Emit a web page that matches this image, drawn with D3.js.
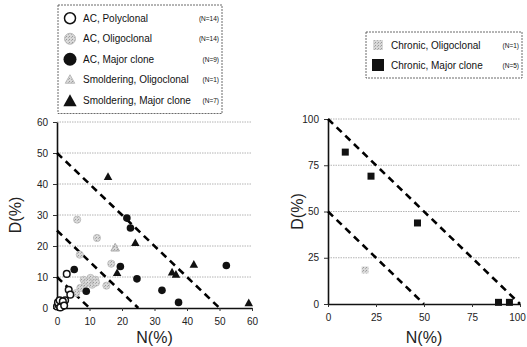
<!DOCTYPE html>
<html><head><meta charset="utf-8">
<script src="https://cdn.jsdelivr.net/npm/d3@7"></script>
<style>
body{margin:0;background:#fff;}
text{font-family:"Liberation Sans",Arial,sans-serif;}
</style></head>
<body><svg id="c" width="527" height="347"></svg>
<script>
// ---- data (left panel: AC & smoldering) ----
const acPolyclonal = [[0,0.5],[0.5,1],[1,1.5],[1.5,0.5],[0.3,1.8],[2,1.5],[1,0.2],[2.5,2.5],[0.8,2.5],[1.8,2.2],[2.2,0.8],[3,11],[3.6,5.9],[4.1,4.3]];
const acOligoclonal = [[6.2,28.5],[12.3,22.6],[7,17.2],[16.7,14.3],[15.2,7.2],[8.2,9.1],[10.3,9.7],[11.8,9.1],[10.8,7.5],[8.7,7.8],[7.2,6.5],[5.9,4.8],[12,8.2],[9.5,8.5]];
const acMajor = [[21.5,29],[22.6,25.8],[19.5,13.4],[24.6,9.4],[32.3,5.7],[37.4,1.8],[52.1,13.7],[5.3,12.4],[9,5.4]];
const smOligoclonal = [[17.9,19.4]];
const smMajor = [[15.7,42.3],[24.1,21],[18.5,11.3],[35.4,11.5],[36.6,10.8],[42.1,14],[59,1.6]];
const leftTicks = [0,10,20,30,40,50,60];
const leftLines = [10,25,50];
// ---- data (right panel: chronic) ----
const chOligoclonal = [[19.3,18.4]];
const chMajor = [[9,82.1],[22.4,69.1],[46.6,43.8],[88.8,0.9],[94.5,0.9]];
const rightTicks = [0,25,50,75,100];
const rightLines = [50,100];
const leftLegend = [
  {label:"AC, Polyclonal", n:"(N=14)", type:"open"},
  {label:"AC, Oligoclonal", n:"(N=14)", type:"grey"},
  {label:"AC, Major clone", n:"(N=9)", type:"black"},
  {label:"Smoldering, Oligoclonal", n:"(N=1)", type:"greytri"},
  {label:"Smoldering, Major clone", n:"(N=7)", type:"tri"}
];
const rightLegend = [
  {label:"Chronic, Oligoclonal", n:"(N=1)", type:"greysq"},
  {label:"Chronic, Major clone", n:"(N=5)", type:"sq"}
];

const svg = d3.select("#c");
const defs = svg.append("defs");
const pat = defs.append("pattern").attr("id","speck").attr("width",3).attr("height",3).attr("patternUnits","userSpaceOnUse");
pat.append("rect").attr("width",3).attr("height",3).attr("fill","#d8d8d8");
pat.append("rect").attr("width",1).attr("height",1).attr("fill","#9a9a9a");
pat.append("rect").attr("x",2).attr("y",1).attr("width",1).attr("height",1).attr("fill","#b0b0b0");

const xL = d3.scaleLinear([0,60],[57,252]);
const yL = d3.scaleLinear([0,60],[308,122]);
const xR = d3.scaleLinear([0,100],[328,520]);
const yR = d3.scaleLinear([0,100],[304,119]);

function panel(x, y, ticks, lines){
  const g = svg.append("g");
  g.append("g").selectAll("line").data(ticks.slice(1)).join("line")
    .attr("x1",x.range()[0]).attr("x2",x.range()[1])
    .attr("y1",d=>y(d)).attr("y2",d=>y(d))
    .attr("stroke","#b4b4b4").attr("stroke-width",1).attr("stroke-dasharray","1.5,1");
  const ax = g.append("g").attr("transform",`translate(0,${y(0)})`)
    .call(d3.axisBottom(x).tickValues(ticks).tickSize(3).tickSizeOuter(0).tickPadding(7));
  const ay = g.append("g").attr("transform",`translate(${x(0)},0)`)
    .call(d3.axisLeft(y).tickValues(ticks).tickSize(4).tickSizeOuter(0).tickPadding(5));
  [ax,ay].forEach(a=>{
    a.select(".domain").attr("stroke","#111").attr("stroke-width",1.6);
    a.selectAll(".tick line").attr("stroke","#333");
    a.selectAll("text").attr("font-size",10).attr("fill","#222");
  });
  ax.selectAll(".tick text").filter(d=>d===100).attr("dx",-3);
  g.append("g").selectAll("line").data(lines).join("line")
    .attr("x1",x(0)).attr("y1",d=>y(d)).attr("x2",d=>x(d)).attr("y2",y(0))
    .attr("stroke","#000").attr("stroke-width",2.6).attr("stroke-dasharray","7,5");
  return g;
}
const gl = panel(xL,yL,leftTicks,leftLines);
const gr = panel(xR,yR,rightTicks,rightLines);

function tri(cx,cy,s){return `M${cx},${cy-s}L${cx+s*0.95},${cy+s*0.7}L${cx-s*0.95},${cy+s*0.7}Z`;}

gl.append("g").selectAll("circle").data(acOligoclonal).join("circle")
  .attr("cx",d=>xL(d[0])).attr("cy",d=>yL(d[1])).attr("r",3.6)
  .attr("fill","url(#speck)").attr("stroke","#bbb").attr("stroke-width",0.8);
gl.append("g").selectAll("path").data(smOligoclonal).join("path")
  .attr("d",d=>tri(xL(d[0]),yL(d[1]),4.5)).attr("fill","url(#speck)").attr("stroke","#aaa");
gl.append("g").selectAll("circle").data(acPolyclonal).join("circle")
  .attr("cx",d=>xL(d[0])).attr("cy",d=>yL(d[1])).attr("r",3.3)
  .attr("fill","#fff").attr("stroke","#111").attr("stroke-width",1.5);
gl.append("g").selectAll("circle").data(acMajor).join("circle")
  .attr("cx",d=>xL(d[0])).attr("cy",d=>yL(d[1])).attr("r",3.8).attr("fill","#111");
gl.append("g").selectAll("path").data(smMajor).join("path")
  .attr("d",d=>tri(xL(d[0]),yL(d[1]),4.5)).attr("fill","#111");

gr.append("g").selectAll("rect").data(chOligoclonal).join("rect")
  .attr("x",d=>xR(d[0])-3.5).attr("y",d=>yR(d[1])-3.5).attr("width",7).attr("height",7)
  .attr("fill","url(#speck)");
gr.append("g").selectAll("rect").data(chMajor).join("rect")
  .attr("x",d=>xR(d[0])-3.5).attr("y",d=>yR(d[1])-3.5).attr("width",7).attr("height",7)
  .attr("fill","#111");

function titles(x,y,dx,ny){
  svg.append("text").attr("x",(x.range()[0]+x.range()[1])/2).attr("y",ny)
    .attr("text-anchor","middle").attr("font-size",16).attr("fill","#222").text("N(%)");
  svg.append("text").attr("transform",`translate(${dx},${(y.range()[0]+y.range()[1])/2}) rotate(-90)`)
    .attr("text-anchor","middle").attr("font-size",16).attr("fill","#222").text("D(%)");
}
titles(xL,yL,21,343);
titles(xR,yR,303,343);

function legend(items,x0,y0,w,rowH){
  const g = svg.append("g");
  g.append("rect").attr("x",x0).attr("y",y0).attr("width",w).attr("height",items.length*rowH+6)
    .attr("fill","#fff").attr("stroke","#444").attr("stroke-width",0.8).attr("stroke-dasharray","2,1");
  items.forEach((it,i)=>{
    const cy = y0+rowH/2+3+i*rowH, mx = x0+12;
    if(it.type==="open") g.append("circle").attr("cx",mx).attr("cy",cy).attr("r",5.5).attr("fill","#fff").attr("stroke","#111").attr("stroke-width",1.5);
    if(it.type==="grey") g.append("circle").attr("cx",mx).attr("cy",cy).attr("r",5.5).attr("fill","url(#speck)").attr("stroke","#bbb");
    if(it.type==="black") g.append("circle").attr("cx",mx).attr("cy",cy).attr("r",6.5).attr("fill","#111");
    if(it.type==="greytri") g.append("path").attr("d",tri(mx,cy,5)).attr("fill","url(#speck)").attr("stroke","#bbb");
    if(it.type==="tri") g.append("path").attr("d",tri(mx,cy+1,7)).attr("fill","#111");
    if(it.type==="greysq") g.append("rect").attr("x",mx-5).attr("y",cy-5).attr("width",10).attr("height",10).attr("fill","url(#speck)");
    if(it.type==="sq") g.append("rect").attr("x",mx-6).attr("y",cy-6).attr("width",12).attr("height",12).attr("fill","#111");
    g.append("text").attr("x",x0+25).attr("y",cy+3.5).attr("font-size",10).attr("fill","#111").text(it.label);
    g.append("text").attr("x",x0+w-3).attr("y",cy+2.5).attr("text-anchor","end").attr("font-size",6.5).attr("fill","#111").text(it.n);
  });
}
legend(leftLegend,58,5,164,20.5);
legend(rightLegend,366,32,156,20);
</script></body></html>
